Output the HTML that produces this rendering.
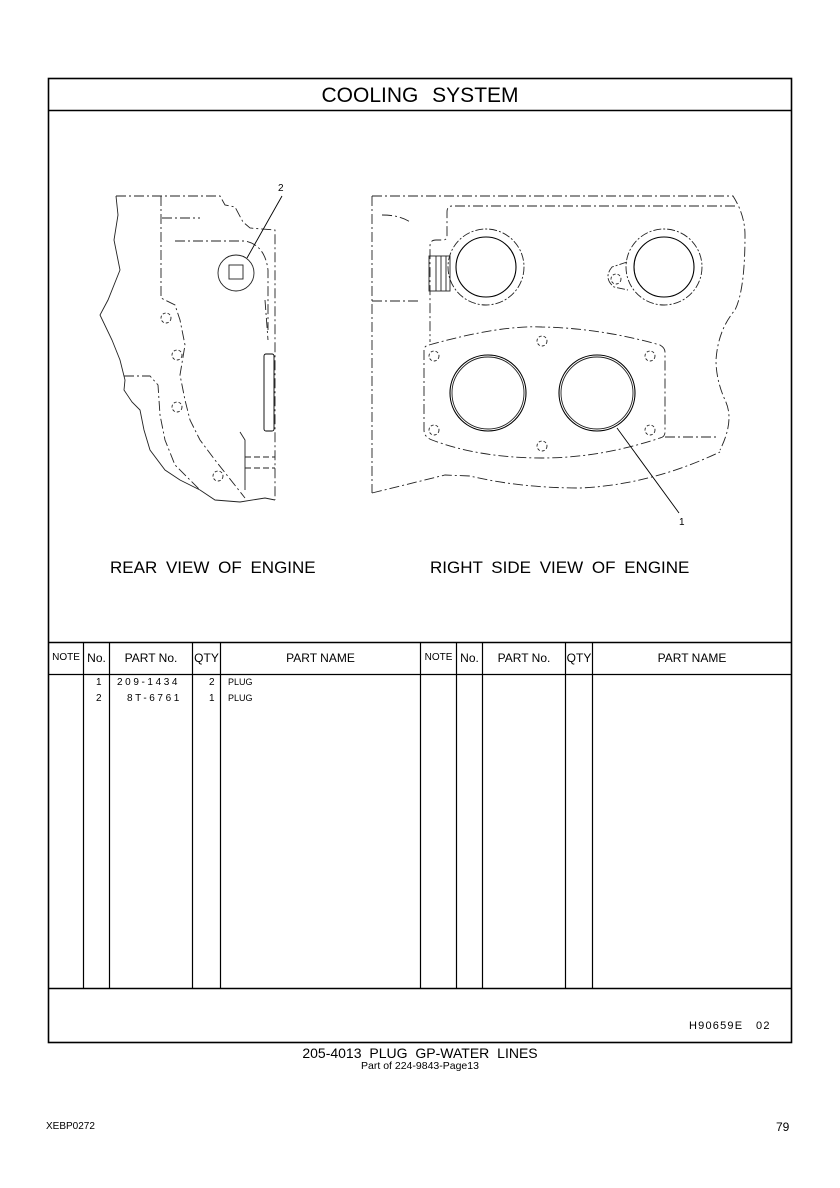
<!DOCTYPE html>
<html><head><meta charset="utf-8"><style>
html,body{margin:0;padding:0;background:#fff;}
body{width:840px;height:1188px;position:relative;overflow:hidden;font-family:"Liberation Sans",sans-serif;color:#000;}
.t{position:absolute;white-space:nowrap;}
</style></head><body>
<svg width="840" height="1188" style="position:absolute;left:0;top:0" xmlns="http://www.w3.org/2000/svg">
<g fill="none" stroke="#000">
<!-- frame -->
<rect x="48.5" y="78.5" width="743" height="964" stroke-width="1.6"/>
<line x1="48" y1="110.5" x2="792" y2="110.5" stroke-width="1.4"/>
<line x1="48" y1="642.5" x2="792" y2="642.5" stroke-width="1.4"/>
<line x1="48" y1="674.5" x2="792" y2="674.5" stroke-width="1.2"/>
<line x1="48" y1="988.5" x2="792" y2="988.5" stroke-width="1.4"/>
<g stroke-width="1.2">
<line x1="83.5" y1="642" x2="83.5" y2="988"/>
<line x1="109.5" y1="642" x2="109.5" y2="988"/>
<line x1="192.5" y1="642" x2="192.5" y2="988"/>
<line x1="220.5" y1="642" x2="220.5" y2="988"/>
<line x1="420.5" y1="642" x2="420.5" y2="988"/>
<line x1="456.5" y1="642" x2="456.5" y2="988"/>
<line x1="482.5" y1="642" x2="482.5" y2="988"/>
<line x1="565.5" y1="642" x2="565.5" y2="988"/>
<line x1="592.5" y1="642" x2="592.5" y2="988"/>
</g>
</g>
<!-- rear view -->
<g fill="none" stroke="#222" stroke-width="0.9">
<path d="M116 196 L220 196 L225 205 L235 207 L243 222 L250 228 L275 230 L275 500" stroke-dasharray="10,3,2,3"/>
<path d="M116 196 L118 215 L114 240 L120 270 L108 300 L100 315 L112 340 L120 360 L125 380 L124 390 L132 402 L140 410 L144 430 L150 450 L165 470 L180 480 L200 490 L215 500 L240 502 L265 498 L275 500"/>
<path d="M161 196 L161 298 L175 305 L180 320 L185 345 L180 375 L185 400 L190 420 L200 440 L215 460 L245 498" stroke-dasharray="10,3,2,3"/>
<path d="M124 376 L150 376 L158 385 L160 415 L165 440 L175 465 L200 490" stroke-dasharray="10,3,2,3"/>
<path d="M162 218 L200 218 M175 241 L245 241 Q265 245 268 270 L268 330 M265 300 L268 340" stroke-dasharray="10,3,2,3"/>
<path d="M240 432 L245 440 L245 490"/>
<path d="M245 457 L275 457 M245 468 L275 468" stroke-dasharray="6,3"/>
<rect x="264" y="354" width="10" height="77" rx="2" stroke="#000"/>
<circle cx="166" cy="318" r="5" stroke-dasharray="3,2"/>
<circle cx="177" cy="355" r="5" stroke-dasharray="3,2"/>
<circle cx="177" cy="407" r="5" stroke-dasharray="3,2"/>
<circle cx="218" cy="476" r="5" stroke-dasharray="3,2"/>
<circle cx="236" cy="273" r="18"/>
<rect x="229" y="265" width="14" height="14"/>
<line x1="282" y1="196" x2="247" y2="258" stroke="#000"/>
</g>
<!-- right view -->
<g fill="none" stroke="#222" stroke-width="0.9">
<path d="M372 196 L733 196 Q745 215 745 235 Q745 290 735 310 Q718 330 716 360 Q716 380 725 400 Q735 420 720 450" stroke-dasharray="10,3,2,3"/>
<path d="M372 196 L372 493" stroke-dasharray="10,3,2,3"/>
<path d="M372 493 L445 475 L470 476 Q520 488 580 488 Q650 485 720 452" stroke-dasharray="10,3,2,3"/>
<path d="M735 206 L452 206 Q447 206 447 212 L447 236 Q447 240 443 240 L436 240 Q430 240 430 246 L430 342" stroke-dasharray="10,3,2,3"/>
<path d="M382 215 Q400 215 410 222 M372 301 L418 301" stroke-dasharray="10,3,2,3"/>
<rect x="429" y="256" width="21" height="35"/>
<path d="M436 256 L436 291 M441 256 L441 291 M446 256 L446 291"/>
<circle cx="486" cy="267" r="38" stroke-dasharray="8,2,2,2"/>
<circle cx="486" cy="267" r="30" stroke="#000" stroke-width="1.1"/>
<circle cx="664" cy="267" r="38" stroke-dasharray="8,2,2,2"/>
<circle cx="664" cy="267" r="30" stroke="#000" stroke-width="1.1"/>
<path d="M627 262 L612 267 Q603 278 614 287 L628 290" stroke-dasharray="8,2,2,2"/>
<circle cx="616" cy="279" r="5" stroke-dasharray="3,2"/>
<path d="M429 345 Q500 325 542 327 Q600 328 660 345 Q665 348 665 352 L665 432 Q665 437 660 438 Q600 458 542 458 Q480 458 432 440 Q424 437 424 430 L424 350 Q424 346 429 345 Z" stroke-dasharray="10,3,2,3"/>
<path d="M665 437 L716 437" stroke-dasharray="10,3,2,3"/>
<circle cx="488" cy="393" r="38" stroke="#000" stroke-width="1.1"/>
<circle cx="488" cy="393" r="36"/>
<circle cx="597" cy="393" r="38" stroke="#000" stroke-width="1.1"/>
<circle cx="597" cy="393" r="36"/>
<circle cx="434" cy="356" r="5" stroke-dasharray="3,2"/>
<circle cx="650" cy="356" r="5" stroke-dasharray="3,2"/>
<circle cx="434" cy="430" r="5" stroke-dasharray="3,2"/>
<circle cx="650" cy="430" r="5" stroke-dasharray="3,2"/>
<circle cx="542" cy="341" r="5" stroke-dasharray="3,2"/>
<circle cx="542" cy="446" r="5" stroke-dasharray="3,2"/>
<line x1="617" y1="428" x2="679" y2="513" stroke="#000"/>
</g>
</svg>
<div class="t" style="left:0;width:840px;top:84px;text-align:center;font-size:21px;word-spacing:8px;">COOLING SYSTEM</div>
<div class="t" style="left:278px;top:183px;font-size:10px;">2</div>
<div class="t" style="left:679px;top:517px;font-size:10px;">1</div>
<div class="t" style="left:110px;top:558px;font-size:17px;word-spacing:4px;">REAR VIEW OF ENGINE</div>
<div class="t" style="left:430px;top:558px;font-size:17px;word-spacing:4px;">RIGHT SIDE VIEW OF ENGINE</div>

<div class="t" style="left:48px;width:36px;top:652px;text-align:center;font-size:10px;">NOTE</div>
<div class="t" style="left:83px;width:27px;top:651px;text-align:center;font-size:12px;">No.</div>
<div class="t" style="left:109px;width:84px;top:651px;text-align:center;font-size:12px;">PART No.</div>
<div class="t" style="left:192px;width:29px;top:651px;text-align:center;font-size:12px;">QTY</div>
<div class="t" style="left:220px;width:201px;top:651px;text-align:center;font-size:12px;">PART NAME</div>
<div class="t" style="left:420px;width:37px;top:652px;text-align:center;font-size:10px;">NOTE</div>
<div class="t" style="left:456px;width:27px;top:651px;text-align:center;font-size:12px;">No.</div>
<div class="t" style="left:482px;width:84px;top:651px;text-align:center;font-size:12px;">PART No.</div>
<div class="t" style="left:565px;width:28px;top:651px;text-align:center;font-size:12px;">QTY</div>
<div class="t" style="left:592px;width:200px;top:651px;text-align:center;font-size:12px;">PART NAME</div>

<div class="t" style="left:96px;top:677px;font-size:10px;">1</div>
<div class="t" style="left:117px;top:677px;font-size:10px;letter-spacing:2.6px;">209-1434</div>
<div class="t" style="left:209px;top:677px;font-size:10px;">2</div>
<div class="t" style="left:228px;top:677px;font-size:9px;">PLUG</div>
<div class="t" style="left:96px;top:693px;font-size:10px;">2</div>
<div class="t" style="left:127px;top:693px;font-size:10px;letter-spacing:2.6px;">8T-6761</div>
<div class="t" style="left:209px;top:693px;font-size:10px;">1</div>
<div class="t" style="left:228px;top:693px;font-size:9px;">PLUG</div>

<div class="t" style="left:689px;top:1020px;font-size:11px;letter-spacing:1.2px;">H90659E&nbsp;&nbsp;&nbsp;02</div>
<div class="t" style="left:0;width:840px;top:1045px;text-align:center;font-size:14px;word-spacing:4px;">205-4013 PLUG GP-WATER LINES</div>
<div class="t" style="left:0;width:840px;top:1060px;text-align:center;font-size:10.5px;">Part of 224-9843-Page13</div>
<div class="t" style="left:46px;top:1121px;font-size:10px;">XEBP0272</div>
<div class="t" style="left:776px;top:1120px;font-size:12px;">79</div>
</body></html>
